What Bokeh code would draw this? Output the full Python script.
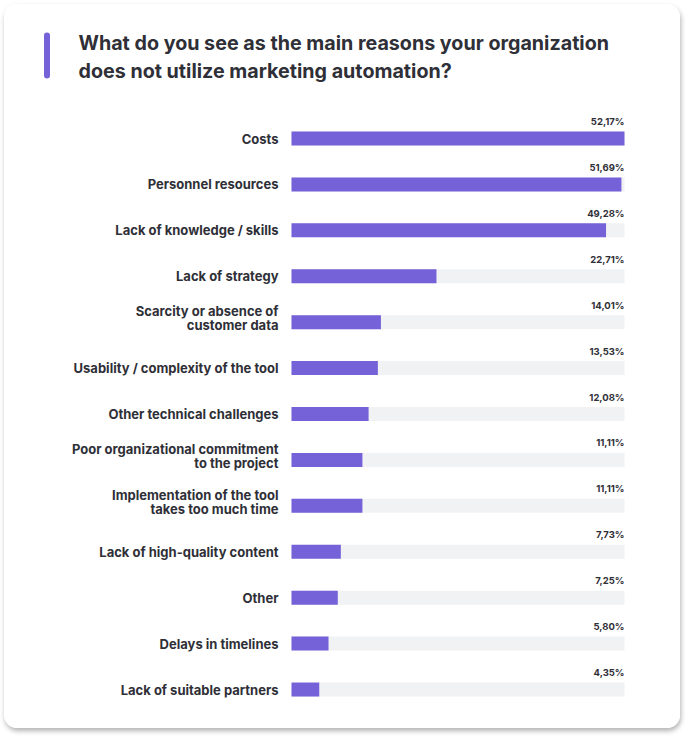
from bokeh.plotting import figure
from bokeh.models import Range1d
from bokeh.core.properties import value
from bokeh.embed import file_html
from bokeh.resources import INLINE

title_lines = ["What do you see as the main reasons your organization",
               "does not utilize marketing automation?"]
categories = [
    "Costs",
    "Personnel resources",
    "Lack of knowledge / skills",
    "Lack of strategy",
    "Scarcity or absence of\ncustomer data",
    "Usability / complexity of the tool",
    "Other technical challenges",
    "Poor organizational commitment\nto the project",
    "Implementation of the tool\ntakes too much time",
    "Lack of high-quality content",
    "Other",
    "Delays in timelines",
    "Lack of suitable partners",
]
values = [52.17, 51.69, 49.28, 22.71, 14.01, 13.53, 12.08, 11.11, 11.11, 7.73, 7.25, 5.80, 4.35]
value_labels = ["52,17%", "51,69%", "49,28%", "22,71%", "14,01%", "13,53%", "12,08%",
                "11,11%", "11,11%", "7,73%", "7,25%", "5,80%", "4,35%"]

FONT = "Inter"
DARK = "#2f2f37"
BAR = "#7562d8"
TRACK = "#f1f2f4"

W, H = 676, 724
x0_px, x1_px = 287, 620          # frame px of value 0 and of the max value
row0_px, row_step = 134, 45.92   # frame px of first row centre, spacing
vmax = max(values)
sx = (x1_px - x0_px) / vmax

def px2x(px):
    return (px - x0_px) / sx

def px2y(py):
    return (py - row0_px) / row_step

p = figure(width=W, height=H, output_backend="svg", toolbar_location=None,
           x_range=Range1d(px2x(0), px2x(W)), y_range=Range1d(px2y(H), px2y(0)),
           x_axis_location=None, y_axis_location=None,
           min_border=0, min_border_left=0, min_border_right=0,
           min_border_top=0, min_border_bottom=0,
           styles={"margin": "4px 0 0 4px", "border-radius": "13px",
                   "overflow": "hidden",
                   "box-shadow": "1px 3px 5px rgba(0,0,0,0.30)"})
p.grid.visible = False
p.outline_line_color = None
p.background_fill_color = "white"
p.border_fill_color = "white"

idx = list(range(len(categories)))
bh = 14 / row_step

p.hbar(y=idx, left=0, right=[vmax] * len(idx), height=bh, fill_color=TRACK, line_color=None)
p.hbar(y=idx, left=0, right=values, height=bh, fill_color=BAR, line_color=None)

# value labels above the right end of each track
p.text(x=[vmax] * len(idx), y=[i - 17 / row_step for i in idx], text=value_labels,
       text_font=value(FONT), text_font_style="bold", text_font_size="9.5px",
       text_align="right", text_baseline="middle", text_color=DARK)

# category labels (single or two lines)
lx, ly, lt = [], [], []
for i, c in zip(idx, categories):
    parts = c.split("\n")
    if len(parts) == 1:
        lx.append(px2x(274)); ly.append(i); lt.append(c)
    else:
        lx += [px2x(274)] * 2
        ly += [i - 11 / row_step, i + 3 / row_step]
        lt += parts
p.text(x=lx, y=ly, text=lt, text_font=value(FONT), text_font_style="bold",
       text_font_size="13px", text_align="right", text_baseline="middle", text_color=DARK)

# accent bar and title
p.line(x=[px2x(42.5), px2x(42.5)], y=[px2y(31), px2y(71)], line_width=6,
       line_color=BAR, line_cap="round")
p.text(x=[px2x(74)] * 2, y=[px2y(38), px2y(66.5)], text=title_lines,
       text_font=value(FONT), text_font_style="bold", text_font_size="19.7px",
       text_align="left", text_baseline="middle", text_color=DARK)

open("out.html", "w").write(file_html(p, INLINE))
